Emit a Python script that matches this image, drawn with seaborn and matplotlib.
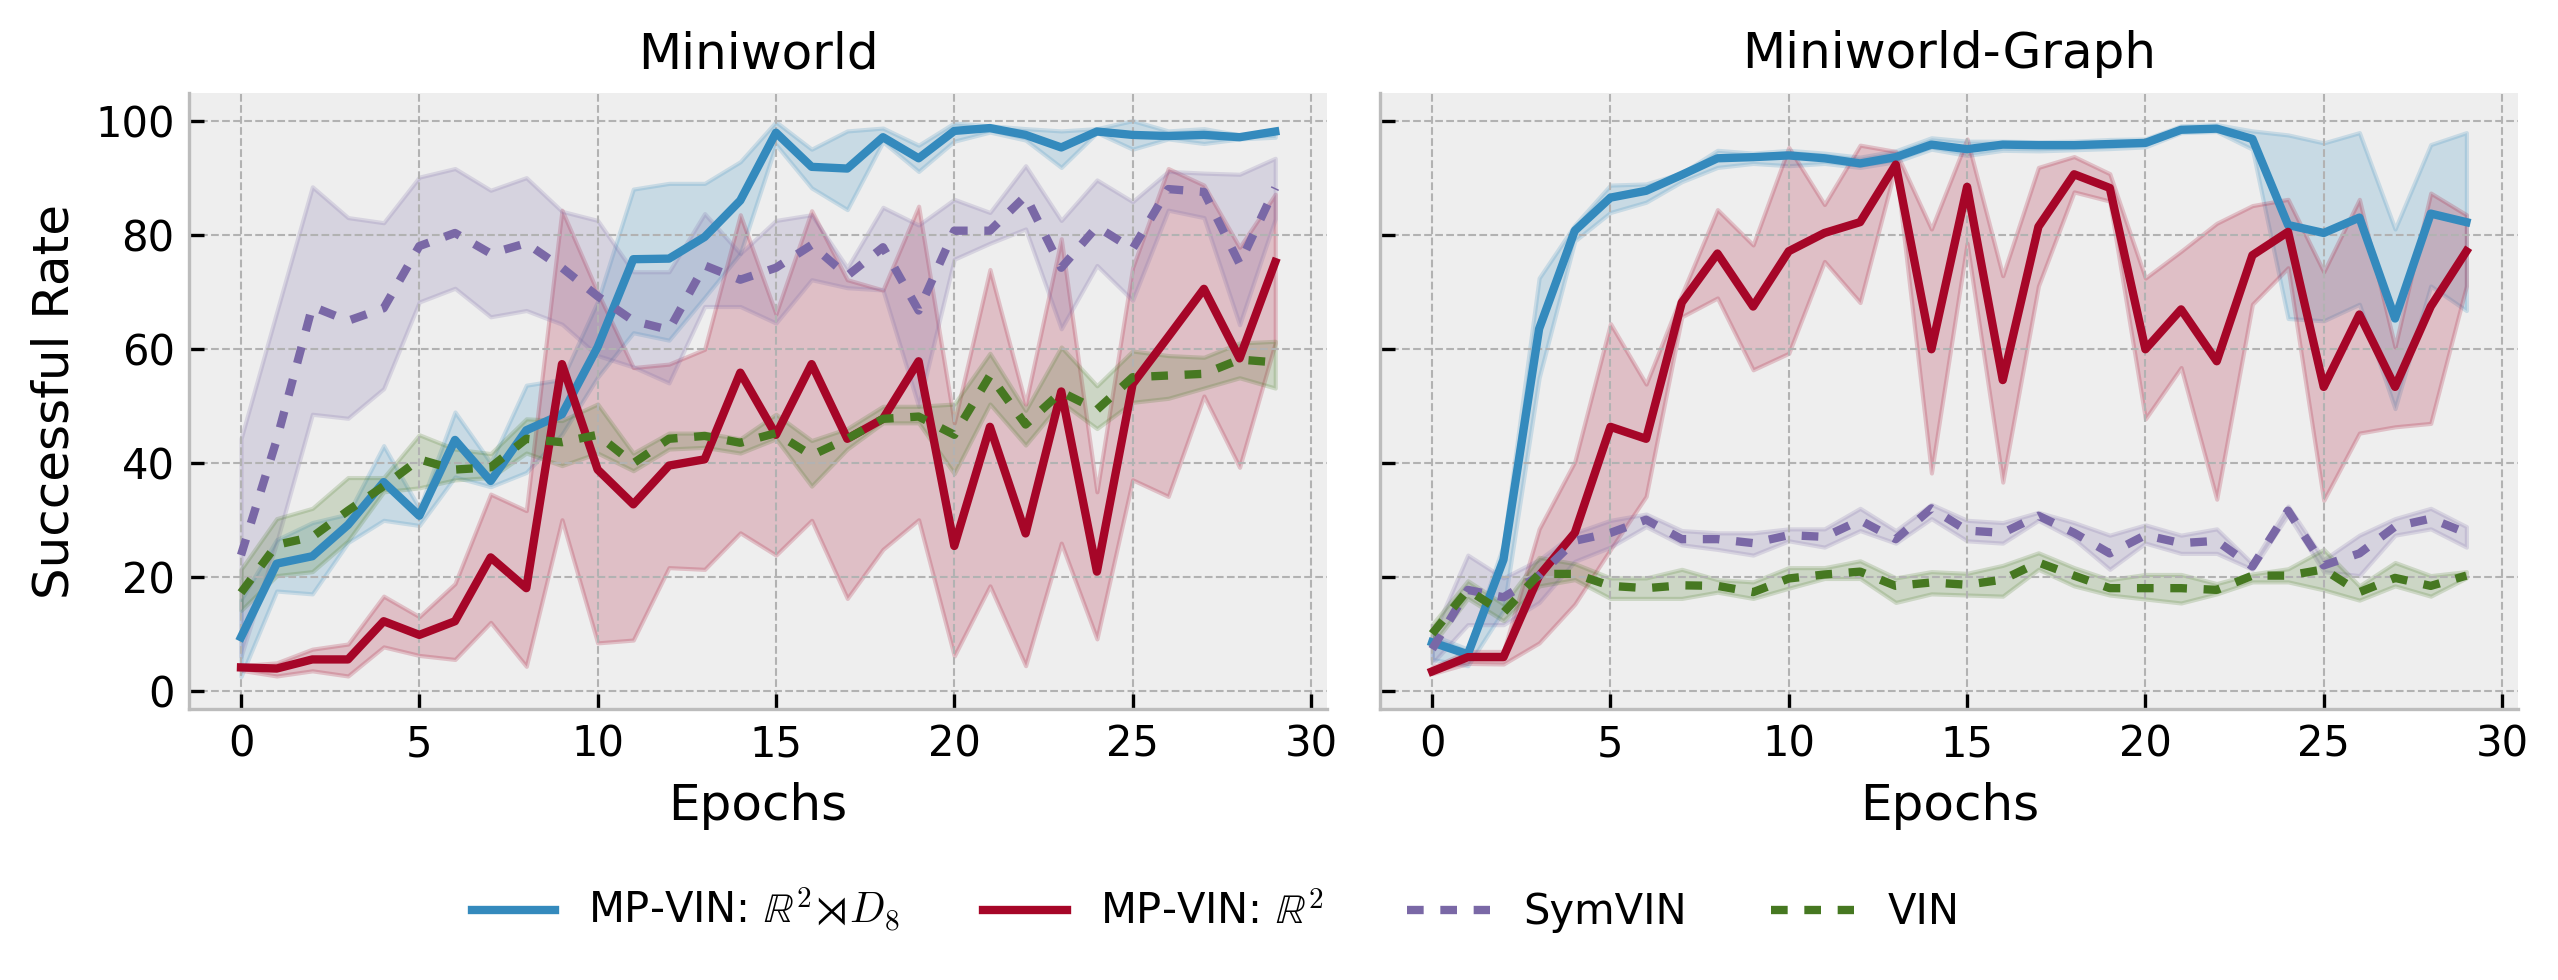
import numpy as np
import pandas as pd
import matplotlib
matplotlib.use("Agg")
import matplotlib.pyplot as plt
import seaborn as sns

# ---------------- data ----------------
epochs = list(range(30))
envs = ["Miniworld", "Miniworld-Graph"]
methods = ["MP-VIN: $\\mathbb{R}^2\\!\\rtimes\\!D_8$", "MP-VIN: $\\mathbb{R}^2$", "SymVIN", "VIN"]
colors = ["#348ABD", "#A60628", "#7A68A6", "#467821"]

# Miniworld
mw_d8_mean = [9.4, 22.3, 23.6, 29.1, 36.6, 30.7, 44.0, 36.8, 45.7, 48.5, 60.3, 75.7, 75.8, 79.6, 86.0,
              97.9, 91.9, 91.6, 97.1, 93.4, 98.2, 98.7, 97.5, 95.3, 98.1, 97.5, 97.3, 97.5, 97.1, 98.1]
mw_d8_lo = [2.5, 17.5, 17.0, 26.0, 29.9, 29.0, 37.5, 35.8, 38.3, 45.0, 55.0, 62.8, 61.5, 69.0, 76.7,
            95.8, 88.2, 84.4, 96.3, 91.1, 96.4, 98.0, 96.6, 91.8, 97.9, 95.0, 96.8, 96.0, 96.8, 97.1]
mw_d8_hi = [16.0, 26.5, 29.5, 31.0, 43.0, 32.0, 48.9, 40.0, 53.6, 54.6, 68.3, 88.0, 89.0, 89.0, 92.8,
            99.8, 95.0, 98.2, 98.7, 95.7, 99.6, 99.1, 98.6, 98.2, 98.6, 100.0, 98.2, 98.6, 97.5, 97.9]

mw_r2_mean = [4.1, 3.9, 5.5, 5.5, 12.2, 9.8, 12.2, 23.4, 18.0, 57.3, 38.8, 32.7, 39.5, 40.6, 55.8,
              44.9, 57.3, 44.2, 47.7, 57.8, 25.4, 46.3, 27.6, 52.5, 20.9, 53.8, 62.1, 70.5, 58.3, 75.2]
mw_r2_lo = [3.6, 2.6, 3.5, 2.6, 7.7, 6.2, 5.5, 12.0, 4.3, 30.0, 8.4, 8.9, 21.6, 21.3, 27.7,
            23.8, 29.9, 16.2, 24.8, 30.0, 6.1, 18.4, 4.4, 25.9, 9.1, 37.0, 34.1, 51.7, 39.2, 61.0]
mw_r2_hi = [4.4, 4.9, 7.3, 8.2, 16.6, 13.0, 18.8, 34.5, 31.6, 84.3, 69.9, 56.7, 57.3, 59.9, 83.5,
            66.1, 84.2, 72.1, 70.3, 85.0, 47.0, 73.9, 50.3, 79.3, 34.9, 74.2, 91.6, 88.7, 77.8, 87.1]

mw_sym_mean = [23.8, 44.0, 67.4, 64.9, 67.1, 78.0, 80.3, 76.7, 78.5, 74.2, 69.2, 64.9, 63.3, 74.6, 72.1,
               74.2, 78.2, 72.8, 77.8, 66.7, 80.7, 80.7, 86.8, 74.2, 81.4, 77.5, 88.0, 87.5, 74.9, 88.2]
mw_sym_lo = [6.0, 26.0, 48.5, 47.8, 53.0, 68.2, 70.6, 65.6, 66.7, 64.3, 58.8, 56.8, 54.0, 67.4, 67.4,
             64.5, 72.1, 70.7, 70.3, 49.9, 75.7, 78.5, 81.0, 63.5, 74.6, 68.5, 84.3, 83.0, 64.2, 82.8]
mw_sym_hi = [44.2, 66.4, 88.4, 83.0, 82.1, 90.1, 91.6, 87.8, 90.0, 84.1, 82.5, 73.5, 73.5, 83.7, 76.7,
             82.5, 83.5, 74.2, 84.8, 81.7, 86.2, 83.9, 92.1, 82.5, 89.6, 85.8, 91.1, 90.8, 90.6, 93.4]

mw_vin_mean = [17.2, 25.6, 27.0, 31.6, 35.9, 40.6, 38.8, 39.2, 44.2, 43.6, 44.9, 39.9, 44.2, 44.7, 43.5,
               45.2, 41.3, 44.2, 47.7, 48.1, 44.9, 55.3, 46.7, 52.4, 49.3, 55.0, 55.3, 55.6, 58.1, 57.6]
mw_vin_lo = [14.1, 20.2, 20.9, 26.3, 34.9, 35.6, 37.0, 37.4, 41.7, 39.5, 41.7, 38.6, 42.4, 42.7, 41.7,
             44.2, 35.9, 42.4, 47.0, 47.0, 38.1, 50.3, 43.1, 50.6, 46.0, 50.6, 51.3, 53.1, 54.9, 53.1]
mw_vin_hi = [21.3, 30.2, 32.0, 37.4, 37.4, 44.9, 42.4, 41.6, 47.7, 47.4, 50.3, 41.7, 45.2, 45.2, 44.2,
             48.5, 43.9, 46.0, 49.9, 49.9, 50.3, 59.2, 49.2, 60.3, 53.5, 59.6, 58.8, 58.5, 61.0, 61.3]

# Miniworld-Graph
mg_d8_mean = [8.5, 6.4, 23.0, 63.5, 80.7, 86.5, 87.7, 90.5, 93.4, 93.6, 93.9, 93.4, 92.5, 93.6, 95.8,
              95.0, 95.8, 95.7, 95.7, 95.9, 96.1, 98.4, 98.6, 96.8, 81.7, 80.3, 83.0, 65.3, 83.7, 82.2]
mg_d8_lo = [5.5, 4.4, 14.1, 54.9, 78.9, 83.9, 85.7, 89.3, 91.8, 92.5, 92.1, 92.5, 91.8, 92.8, 95.0,
            93.9, 94.8, 94.7, 94.9, 95.1, 95.4, 97.9, 98.1, 95.0, 65.3, 64.9, 67.8, 49.5, 71.0, 66.7]
mg_d8_hi = [9.8, 7.3, 25.6, 72.4, 81.7, 88.7, 88.9, 90.8, 94.8, 94.3, 94.8, 94.3, 93.6, 94.7, 97.0,
            96.4, 96.4, 96.3, 96.4, 96.7, 96.8, 99.1, 99.3, 98.2, 97.5, 96.1, 97.9, 81.0, 95.8, 97.9]

mg_r2_mean = [3.4, 5.9, 5.9, 20.2, 27.7, 46.3, 44.2, 68.1, 76.7, 67.4, 77.1, 80.3, 82.2, 92.3, 59.9,
              88.4, 54.5, 81.4, 90.6, 88.2, 59.9, 66.9, 57.8, 76.4, 80.5, 53.3, 66.0, 53.3, 67.4, 77.1]
mg_r2_lo = [3.0, 4.8, 4.7, 8.4, 15.2, 24.8, 34.1, 65.6, 68.9, 56.3, 59.2, 75.3, 68.1, 92.1, 38.2,
            78.5, 36.6, 71.0, 87.5, 85.9, 47.7, 56.7, 33.6, 67.8, 74.2, 33.4, 45.2, 46.3, 46.9, 71.0]
mg_r2_hi = [4.1, 6.9, 6.9, 28.4, 40.2, 64.4, 53.8, 69.5, 84.4, 78.2, 95.3, 85.3, 95.7, 94.6, 81.0,
            96.8, 72.8, 91.8, 93.7, 90.7, 72.4, 77.1, 82.0, 85.1, 86.2, 73.5, 86.2, 60.3, 87.3, 83.5]

mg_sym_mean = [7.3, 17.7, 16.4, 20.2, 26.3, 27.7, 30.0, 26.6, 26.6, 25.9, 27.3, 27.0, 29.9, 26.6, 32.0,
               28.1, 27.7, 30.7, 27.7, 24.1, 27.3, 25.9, 26.3, 21.8, 31.6, 22.0, 24.1, 28.8, 30.2, 27.7]
mg_sym_lo = [4.8, 11.6, 11.6, 15.5, 22.7, 25.2, 28.8, 25.6, 24.8, 23.8, 26.3, 25.2, 28.1, 25.9, 30.2,
             26.3, 25.9, 29.9, 26.6, 21.3, 25.9, 24.1, 24.1, 21.3, 30.9, 20.9, 20.2, 27.3, 28.4, 25.2]
mg_sym_hi = [9.4, 23.8, 19.8, 23.0, 27.7, 29.9, 31.0, 28.1, 27.7, 27.7, 28.4, 28.4, 32.0, 28.1, 32.7,
             29.9, 29.5, 31.3, 29.5, 27.3, 29.1, 27.3, 28.4, 22.3, 32.4, 23.0, 27.3, 30.2, 32.0, 28.8]

mg_vin_mean = [10.0, 17.7, 13.7, 20.5, 20.5, 18.4, 18.0, 18.5, 18.4, 17.3, 19.7, 20.4, 20.9, 18.4, 19.0,
               18.6, 19.5, 22.5, 20.2, 18.0, 18.0, 18.0, 17.7, 20.2, 20.2, 21.3, 17.3, 19.8, 18.4, 20.2]
mg_vin_lo = [8.0, 16.2, 12.3, 18.4, 19.5, 16.2, 16.2, 16.2, 17.3, 16.2, 18.0, 19.7, 19.7, 15.5, 17.0,
             16.8, 16.6, 21.3, 18.4, 16.8, 16.1, 15.4, 17.0, 19.1, 19.1, 17.7, 15.9, 18.4, 16.6, 19.8]
mg_vin_hi = [11.6, 19.3, 15.2, 23.4, 22.3, 19.8, 19.8, 21.3, 19.5, 19.1, 21.6, 21.6, 22.8, 19.8, 20.9,
             20.6, 22.0, 24.2, 21.6, 19.5, 20.4, 20.4, 18.8, 20.5, 21.4, 24.8, 18.4, 22.5, 20.2, 20.9]

series = {
    "Miniworld": [(mw_d8_mean, mw_d8_lo, mw_d8_hi), (mw_r2_mean, mw_r2_lo, mw_r2_hi),
                  (mw_sym_mean, mw_sym_lo, mw_sym_hi), (mw_vin_mean, mw_vin_lo, mw_vin_hi)],
    "Miniworld-Graph": [(mg_d8_mean, mg_d8_lo, mg_d8_hi), (mg_r2_mean, mg_r2_lo, mg_r2_hi),
                        (mg_sym_mean, mg_sym_lo, mg_sym_hi), (mg_vin_mean, mg_vin_lo, mg_vin_hi)],
}

rows = []
for env in envs:
    for m, (mean, lo, hi) in zip(methods, series[env]):
        for e, v, l, h in zip(epochs, mean, lo, hi):
            rows.append({"env": env, "method": m, "Epochs": e, "rate": v, "lo": l, "hi": h})
df = pd.DataFrame(rows)

# ---------------- style ----------------
plt.style.use("bmh")
plt.rcParams.update({
    "font.family": ["DejaVu Sans"],
    "font.size": 10,
    "axes.titlesize": 12,
    "axes.labelsize": 12,
    "xtick.labelsize": 10,
    "ytick.labelsize": 10,
    "legend.fontsize": 10,
    "mathtext.fontset": "cm",
    "xtick.direction": "in",
    "ytick.direction": "in",
    "xtick.color": "black",
    "ytick.color": "black",
    "axes.edgecolor": "#bcbcbc",
    "lines.linewidth": 2.0,
})

palette = dict(zip(methods, colors))
dashes = {methods[0]: "", methods[1]: "", methods[2]: (2, 2), methods[3]: (2, 2)}

fig, axes = plt.subplots(1, 2, figsize=(2558 / 300, 980 / 300), dpi=300, sharey=True)
fig.subplots_adjust(left=0.0740, right=0.9844, bottom=0.2765, top=0.9048, wspace=0.047)

for i, (ax, env) in enumerate(zip(axes, envs)):
    sub = df[df["env"] == env]
    for m in methods:
        s = sub[sub["method"] == m]
        ax.fill_between(s["Epochs"], s["lo"], s["hi"], color=palette[m], alpha=0.2,
                        linewidth=1.0, zorder=1)
    sns.lineplot(data=sub, x="Epochs", y="rate", hue="method", style="method",
                 hue_order=methods, style_order=methods, palette=palette, dashes=dashes,
                 linewidth=2.0, errorbar=None, ax=ax, legend=(i == 0))
    ax.set_title(env)
    ax.set_xlabel("Epochs")
    ax.set_ylabel("Successful Rate" if i == 0 else "")
    ax.set_xticks([0, 5, 10, 15, 20, 25, 30])
    ax.set_yticks([0, 20, 40, 60, 80, 100])
    ax.set_xlim(-1.45, 30.45)
    ax.set_ylim(-3.2, 104.8)
    ax.tick_params(axis="both", which="both", direction="in", color="black",
                   top=False, right=False)
    ax.grid(True, linestyle="--", color="#b2b2b2", linewidth=0.5)
    sns.despine(ax=ax)

handles, labels = axes[0].get_legend_handles_labels()
axes[0].get_legend().remove()
fig.legend(handles, labels, loc="center", bbox_to_anchor=(0.4752, 0.0714), ncol=4,
           frameon=False, fontsize=10)

fig.savefig("out.png", dpi=300)
